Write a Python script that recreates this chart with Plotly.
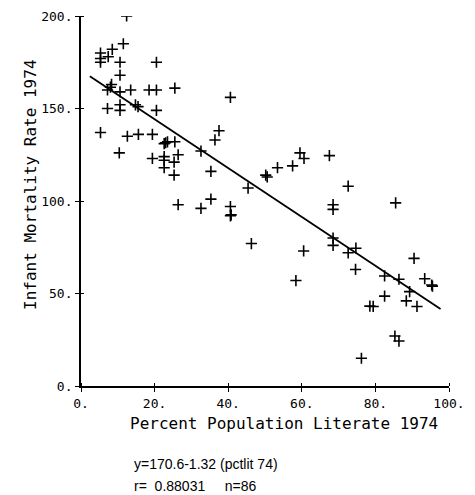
import plotly.graph_objects as go

# Percent population literate 1974 (x) vs infant mortality rate 1974 (y)
pct_literate = [
    12.4, 11.5, 8.5, 5.3, 5.3, 7.4, 5.3, 10.6, 20.5, 10.6,
    8.3, 8.0, 7.2, 10.6, 13.5, 18.5, 20.5, 25.5, 14.8, 15.5,
    7.2, 10.6, 10.6, 20.5, 5.3, 12.6, 15.6, 19.4, 22.6, 23.5,
    23.0, 25.5, 32.6, 10.4, 19.4, 22.6, 22.6, 25.3, 26.4, 22.6,
    25.3, 26.4, 32.6, 40.6, 37.5, 36.4, 35.3, 35.3, 40.6, 40.6,
    45.4, 50.2, 50.6, 53.4, 57.5, 59.5, 60.6, 67.5, 46.3, 60.5,
    58.4, 68.5, 68.5, 68.5, 68.5, 72.6, 85.5, 74.7, 72.6, 74.6,
    90.5, 82.5, 86.4, 93.4, 95.5, 95.3, 89.3, 88.4, 91.3, 82.5,
    78.5, 79.4, 85.3, 86.4, 76.2, 40.8,
]
infant_mortality = [
    200.0, 185.0, 182.0, 180.0, 177.0, 178.0, 175.0, 175.0, 175.0, 168.0,
    163.0, 161.5, 160.0, 159.0, 160.0, 160.0, 160.0, 161.0, 152.0, 151.0,
    150.0, 152.0, 149.0, 149.0, 137.0, 135.0, 136.0, 136.0, 131.0, 132.0,
    131.5, 132.0, 127.0, 126.0, 123.0, 124.0, 122.0, 121.0, 125.0, 118.0,
    114.0, 98.0, 96.0, 156.0, 138.0, 133.0, 116.0, 101.0, 97.0, 92.0,
    107.0, 114.0, 113.0, 118.0, 119.0, 126.0, 123.0, 124.5, 77.0, 73.0,
    57.0, 98.0, 95.5, 80.0, 76.0, 108.0, 99.0, 74.5, 72.0, 63.0,
    69.0, 59.5, 57.7, 58.0, 54.0, 54.6, 51.0, 46.0, 43.0, 48.6,
    43.2, 43.0, 27.0, 24.3, 15.0, 92.5,
]

# Regression fit  y = 170.6 - 1.32 * pctlit74
intercept = 170.6
slope = -1.32
fit_x = [2.4, 97.7]
fit_y = [intercept + slope * v for v in fit_x]

x_ticks = [0, 20, 40, 60, 80, 100]
x_tick_labels = ["0.", "20.", "40.", "60.", "80.", "100."]
y_ticks = [0, 50, 100, 150, 200]
y_tick_labels = ["0.", "50.", "100.", "150.", "200."]

MONO = "DejaVu Sans Mono"

fig = go.Figure()
fig.add_trace(go.Scatter(
    x=pct_literate, y=infant_mortality, mode="markers",
    marker=dict(symbol="cross-thin", size=8, color="black",
                line=dict(color="black", width=1.6)),
    showlegend=False, hoverinfo="x+y",
))
fig.add_trace(go.Scatter(
    x=fit_x, y=fit_y, mode="lines",
    line=dict(color="black", width=1.8), showlegend=False,
))

axis_common = dict(
    showgrid=False, zeroline=False, showline=True, linecolor="black",
    linewidth=1.8, ticks="outside", ticklen=4, tickwidth=1.4,
    tickcolor="black", tickfont=dict(family=MONO, size=13, color="black"),
    automargin=False,
)
fig.update_xaxes(range=[0, 100], tickvals=x_ticks, ticktext=x_tick_labels,
                 minor=dict(tickvals=x_ticks, ticks="inside", ticklen=3,
                            tickwidth=1.4, tickcolor="black"),
                 **axis_common)
fig.update_yaxes(range=[0, 200], tickvals=y_ticks, ticktext=y_tick_labels,
                 minor=dict(tickvals=y_ticks, ticks="inside", ticklen=3,
                            tickwidth=1.4, tickcolor="black"),
                 **axis_common)

fig.update_layout(
    width=467, height=487,
    margin=dict(l=73, r=26, t=8, b=109),
    plot_bgcolor="white", paper_bgcolor="white",
    font=dict(family=MONO, size=13, color="black"),
    annotations=[
        dict(text="Percent Population Literate 1974", xref="paper", yref="paper",
             x=0.552, y=-0.100, showarrow=False, xanchor="center", yanchor="middle",
             font=dict(family=MONO, size=16)),
        dict(text="Infant Mortality Rate 1974", xref="paper", yref="paper",
             x=-0.139, y=0.543, showarrow=False, textangle=-90,
             xanchor="center", yanchor="middle",
             font=dict(family=MONO, size=16)),
        dict(text="y=170.6-1.32 (pctlit 74)", xref="paper", yref="paper",
             x=0.139, y=-0.211, showarrow=False, xanchor="left", yanchor="middle",
             font=dict(family="Liberation Sans", size=14)),
        dict(text="r=  0.88031     n=86", xref="paper", yref="paper",
             x=0.139, y=-0.270, showarrow=False, xanchor="left", yanchor="middle",
             font=dict(family="Liberation Sans", size=14)),
    ],
)

fig.write_html("out.html")
